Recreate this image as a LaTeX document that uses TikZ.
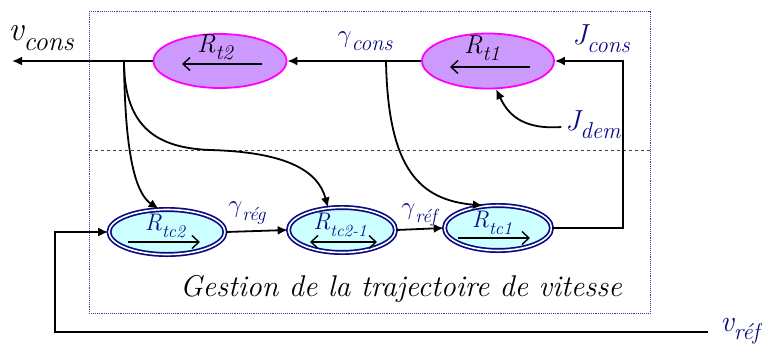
\documentclass[tikz,border=0pt]{standalone}
\usepackage{fontspec}
\usetikzlibrary{arrows.meta,shapes.geometric}
\definecolor{navyc}{RGB}{10,10,130}
\definecolor{pinkfill}{RGB}{204,153,255}
\definecolor{pinkline}{RGB}{255,0,255}
\definecolor{cyanfill}{RGB}{204,255,255}
\newcommand\lbl[4]{{\fontsize{#1}{#1}\selectfont\itshape #3\raisebox{-0.28em}{\fontsize{#2}{#2}\selectfont #4}}}
\begin{document}
\begin{tikzpicture}[x=1pt,y=-1pt,
  conn/.style={line width=1.8pt,-{Latex[length=10pt,width=9pt]}},
  inarrow/.style={line width=1.4pt,-{Straight Barb[length=7pt,width=13pt]}},
  pinknode/.style={ellipse,draw=pinkline,line width=1.8pt,fill=pinkfill,inner sep=0pt},
  cyannode/.style={ellipse,draw=navyc,line width=1.7pt,double=white,double distance=1.6pt,fill=cyanfill,inner sep=0pt},
  lab/.style={inner sep=0pt,text=navyc},
  labk/.style={inner sep=0pt,text=black}]
\useasboundingbox (0,0) rectangle (762,349);
% frame
\draw[navyc!80,densely dotted,line width=0.9pt] (89,11) rectangle (650,313);
\draw[black!75,dashed,line width=1pt] (89,150) -- (650,150);
% nodes
\node[pinknode,minimum width=133pt,minimum height=54pt] (rt2) at (220,61) {};
\node[pinknode,minimum width=132pt,minimum height=55pt] (rt1) at (488,61) {};
\node[cyannode,minimum width=116pt,minimum height=45pt] (rtc2) at (167,232) {};
\node[cyannode,minimum width=107pt,minimum height=45pt] (rtc21) at (342,230) {};
\node[cyannode,minimum width=107pt,minimum height=45pt] (rtc1) at (498,228) {};
% inner arrows
\coordinate (a1s) at (262,64); \coordinate (a1e) at (182,64);
\draw[inarrow] (a1s) -- (a1e);
\coordinate (a2s) at (530,67); \coordinate (a2e) at (450,67);
\draw[inarrow] (a2s) -- (a2e);
\coordinate (a3s) at (128,242); \coordinate (a3e) at (200,242);
\draw[inarrow] (a3s) -- (a3e);
\coordinate (a4s) at (310,242); \coordinate (a4e) at (377,242);
\draw[line width=1.4pt,{Straight Barb[length=7pt,width=13pt]}-{Straight Barb[length=7pt,width=13pt]}] (a4s) -- (a4e);
\coordinate (a5s) at (458,238); \coordinate (a5e) at (530,238);
\draw[inarrow] (a5s) -- (a5e);
% node labels
\node[labk] (lrt2) at (215,47) {\lbl{26}{21}{R}{t2}};
\node[labk] (lrt1) at (482,48) {\lbl{26}{21}{R}{t1}};
\node[lab] (lrtc2) at (165,226) {\lbl{24}{18}{R}{tc2}};
\node[lab] (lrtc21) at (340,225) {\lbl{24}{17}{R}{tc2-1}};
\node[lab] (lrtc1) at (492,223) {\lbl{24}{18}{R}{tc1}};
% coordinates
\coordinate (vout) at (12,61);
\coordinate (b1) at (124,61);
\coordinate (b2) at (386,61);
\coordinate (jc) at (623,61);
\coordinate (vr) at (708,332);
\coordinate (fb) at (55,332);
% main chain
\draw[conn] (rt2.west) -- (vout);
\draw[conn] (rt1.west) -- (rt2.east);
\draw[conn] (rtc1.east) -| (jc) -- (rt1.east);
\draw[conn] (rtc2.east) -- (rtc21.west);
\draw[conn] (rtc21.east) -- (rtc1.west);
\draw[conn] (vr) -- (fb) |- (rtc2.west);
% curves
\draw[conn] (b1) .. controls (125,165) and (138,195) .. (rtc2.110);
\draw[conn] (b1) .. controls (124,130) and (160,148) .. (210,150) .. controls (285,152) and (318,170) .. (rtc21.122);
\draw[conn] (b2) .. controls (388,170) and (420,200) .. (rtc1.124);
% labels
\node[labk] (lvcons) at (41,38) {\lbl{34}{27}{v}{cons}};
\node[lab] (lgcons) at (365,41) {\lbl{28}{22}{$\gamma$}{cons}};
\node[lab] (ljcons) at (601,39) {\lbl{29}{23}{J}{cons}};
\node[lab] (ljdem) at (593,125) {\lbl{29}{23}{J}{dem}};
\node[lab] (lgreg) at (247,213) {\lbl{26}{19}{$\gamma$}{rég}};
\node[lab] (lgref) at (419,215) {\lbl{26}{19}{$\gamma$}{réf}};
\node[lab] (lvref) at (740,331) {\lbl{30}{23}{v}{réf}};
\draw[conn] (ljdem.west) ++(-4,2) .. controls (520,130) and (507,112) .. (rt1.-74);
\node[labk] (title) at (401,289) {\fontsize{30}{30}\selectfont\itshape Gestion de la trajectoire de vitesse};
\end{tikzpicture}
\end{document}
